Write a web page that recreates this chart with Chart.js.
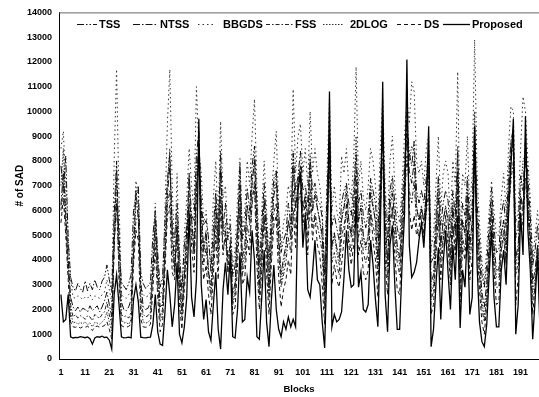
<!DOCTYPE html>
<html>
<head>
<meta charset="utf-8">
<script src="https://cdn.jsdelivr.net/npm/chart.js@4.4.1/dist/chart.umd.min.js"></script>
<style>
  html, body { margin: 0; padding: 0; background: #fff; }
  #wrap { width: 539px; height: 397px; }
</style>
</head>
<body>
<div id="wrap"><canvas id="sadChart" width="539" height="397"></canvas></div>
<script>
// block index on the x axis (1..199)
const blocks = Array.from({ length: 199 }, (_, i) => i + 1);
const blockTicks = [1, 11, 21, 31, 41, 51, 61, 71, 81, 91, 101, 111, 121, 131, 141, 151, 161, 171, 181, 191];
const seriesNames = ['TSS', 'NTSS', 'BBGDS', 'FSS', '2DLOG', 'DS', 'Proposed'];

// # of SAD per block
const tss = [
  7800, 6900, 8200, 4800, 3300, 2900, 2750, 3050, 2850, 2700,
  3150, 2750, 3050, 2800, 3200, 2900, 2800, 3150, 3300, 3800,
  3200, 2700, 5800, 8000, 4600, 3100, 2950, 2800, 3050, 3400,
  6000, 6600, 7000, 3500, 3050, 2850, 2950, 3100, 5000, 6000,
  4300, 2900, 3300, 5600, 7200, 8300, 5200, 4900, 6300, 4300,
  2800, 4600, 5400, 7400, 5800, 5600, 8200, 9200, 6200, 5400,
  5600, 4900, 3500, 5300, 6800, 5000, 8400, 5300, 6300, 4800,
  5400, 3300, 3800, 5400, 7900, 4800, 5300, 6900, 6000, 7800,
  8600, 6300, 3700, 5300, 7100, 5400, 3800, 5800, 7300, 7600,
  5900, 4300, 4800, 5100, 6300, 5400, 8300, 6800, 7400, 8400,
  6800, 7000, 6300, 8100, 6800, 7100, 6400, 6300, 5700, 3400,
  6800, 9300, 5400, 5800, 5300, 4800, 6300, 6800, 7100, 6300,
  5800, 6900, 8300, 6300, 6800, 5800, 5300, 5900, 7300, 6800,
  6300, 4900, 7300, 9300, 6400, 4800, 6800, 7400, 6300, 5300,
  4800, 6300, 7800, 9800, 8300, 7800, 8800, 6800, 6300, 6800,
  6300, 7300, 8400, 3900, 4100, 5800, 7300, 5400, 6300, 6800,
  6400, 4900, 6800, 5800, 8400, 4300, 6300, 5800, 7400, 5400,
  6300, 9400, 6300, 4800, 3400, 2900, 3800, 5400, 6900, 5300,
  4300, 4400, 5800, 6400, 5300, 7400, 8800, 9300, 4900, 5400,
  7400, 6800, 8800, 7400, 5800, 3800, 4400, 5400, 3800
];
const ntss = [
  6200, 7600, 5800, 4000, 2500, 2100, 1950, 2100, 1900, 2050,
  2000, 1900, 2150, 1950, 2050, 2150, 1900, 2100, 2350, 2700,
  2200, 1700, 4600, 6400, 5200, 2300, 2000, 1950, 2100, 2400,
  4300, 6800, 5600, 3100, 2100, 2000, 2050, 2300, 3600, 5600,
  3900, 2100, 2200, 4200, 6600, 7800, 5400, 3600, 5400, 3600,
  2000, 3300, 5200, 6300, 5700, 4300, 7000, 8700, 6100, 4400,
  5200, 3500, 3000, 4100, 6200, 4600, 7600, 5200, 5100, 4100,
  4600, 2600, 3100, 5200, 7000, 4100, 4600, 6200, 5600, 7100,
  8000, 5600, 3000, 4600, 6400, 5100, 2900, 5100, 6600, 7100,
  5000, 3400, 4100, 4600, 5600, 5000, 7700, 6100, 7000, 7600,
  6100, 6600, 5600, 7700, 6000, 6600, 6100, 5600, 5000, 2600,
  6100, 8600, 4600, 5100, 4500, 4100, 5600, 6100, 6700, 5600,
  5000, 6100, 7700, 5600, 6100, 5000, 4600, 5000, 6700, 6100,
  5600, 4100, 6700, 8900, 5600, 4000, 6100, 6700, 5600, 4600,
  4100, 5600, 7100, 9100, 7600, 7100, 8000, 6100, 5600, 6100,
  5600, 6600, 7600, 3100, 3400, 5100, 6600, 4600, 5600, 6100,
  5600, 4100, 6100, 5100, 7600, 3600, 5600, 5100, 6700, 4600,
  5600, 8700, 5600, 4100, 2700, 2100, 3100, 4600, 6100, 4600,
  3600, 3600, 5100, 5600, 4600, 6600, 8000, 8800, 4100, 4600,
  6600, 6100, 8100, 6600, 5000, 3100, 3600, 4600, 3100
];
const bbgds = [
  8500, 9200, 7000, 5000, 3200, 2500, 2450, 2550, 2500, 2400,
  2500, 2450, 2600, 2400, 2550, 2500, 2450, 2600, 2700, 3200,
  2800, 2300, 8000, 11700, 6500, 2600, 2500, 2450, 2600, 2800,
  5000, 7200, 6500, 3000, 2600, 2500, 2550, 2700, 4200, 6300,
  3800, 2500, 2800, 6000, 9500, 11700, 7000, 4200, 7500, 3800,
  2600, 5000, 6500, 8500, 7000, 6000, 11000, 8500, 7500, 5500,
  6000, 4800, 3800, 6500, 8000, 5500, 9600, 6500, 7000, 5000,
  5800, 3600, 4500, 6500, 8100, 5000, 6000, 8000, 7000, 9000,
  10500, 7000, 4000, 6000, 8000, 6000, 4000, 6500, 8000, 9200,
  6000, 4500, 5500, 6000, 7000, 6500, 10900, 7500, 9000, 9500,
  7500, 8500, 7000, 10000, 7500, 8500, 7500, 7000, 6000, 3500,
  7500, 10500, 6000, 7000, 6000, 5500, 8200, 7500, 8500, 7000,
  6500, 8000, 11800, 7000, 8000, 6500, 6000, 7000, 8500, 8000,
  7000, 5500, 8500, 10500, 7000, 5500, 8000, 9000, 7000, 6000,
  5500, 7000, 9000, 10500, 9500, 11200, 10800, 8000, 7500, 8000,
  7000, 8500, 9000, 4500, 5000, 7000, 9000, 6000, 7500, 8000,
  7500, 5500, 8000, 7000, 11600, 5000, 7500, 7000, 9000, 6000,
  7500, 12900, 7500, 5500, 4000, 3000, 4500, 6000, 7200, 6000,
  5000, 5000, 6500, 7500, 6000, 8500, 10200, 10000, 5500, 6000,
  8500, 10600, 10000, 8000, 6500, 4000, 5000, 6000, 4500
];
const fss = [
  6000, 7000, 5400, 3500, 2200, 1700, 1800, 1650, 1750, 1700,
  1600, 1750, 1700, 1550, 1800, 1700, 1650, 1800, 1900, 2300,
  1800, 1400, 4800, 6200, 3500, 1800, 1700, 1750, 1650, 1900,
  4200, 5600, 5800, 2500, 1800, 1700, 1750, 1900, 3400, 5000,
  3000, 1700, 2000, 4200, 6200, 6800, 4300, 3400, 5000, 2900,
  1800, 3200, 4500, 6000, 5000, 4200, 6800, 7800, 5400, 3800,
  4500, 3300, 2500, 3900, 5500, 3900, 6600, 4400, 4900, 3500,
  3900, 2200, 2600, 4500, 6300, 3400, 3900, 5400, 4800, 6200,
  7200, 4800, 2500, 3900, 5700, 4400, 2400, 4400, 5900, 6300,
  4300, 2900, 3400, 3900, 4900, 4300, 6800, 5300, 6300, 6800,
  5400, 5900, 4900, 6900, 5300, 5900, 5400, 4900, 4300, 2000,
  5400, 7800, 3900, 4300, 3800, 3400, 4900, 5400, 6000, 4900,
  4300, 5400, 6800, 4900, 5400, 4300, 3900, 4300, 6000, 5400,
  4900, 3400, 5900, 8100, 4900, 3300, 5400, 6000, 4900, 3900,
  3400, 4900, 6300, 8200, 6800, 6300, 7200, 5400, 4900, 5400,
  4900, 5900, 6800, 2400, 2700, 4400, 5900, 3900, 4900, 5400,
  4900, 3400, 5400, 4400, 6800, 2900, 4900, 4400, 6000, 3900,
  4900, 7900, 4900, 3400, 2000, 1500, 2400, 3900, 5400, 3900,
  2900, 2900, 4400, 4900, 3900, 5900, 7200, 8000, 3400, 3900,
  5900, 5400, 7300, 5900, 4300, 2400, 2900, 3900, 2400
];
const twoDLog = [
  7000, 8500, 6000, 4000, 1900, 1450, 1500, 1400, 1480, 1420,
  1500, 1380, 1460, 1300, 1480, 1450, 1400, 1500, 1600, 1900,
  1500, 1100, 5500, 7200, 4000, 1600, 1450, 1480, 1400, 1600,
  4600, 6200, 6400, 2200, 1500, 1450, 1480, 1600, 3800, 5700,
  3300, 1500, 1800, 4800, 7000, 8500, 4800, 3700, 5800, 3000,
  1600, 3600, 5200, 6800, 5600, 4700, 8000, 8200, 6000, 4300,
  5000, 3600, 2700, 4500, 6400, 4300, 7800, 5000, 5500, 3800,
  4400, 2300, 2800, 5000, 7400, 3700, 4300, 6200, 5400, 7000,
  8200, 5300, 2700, 4400, 6500, 4900, 2600, 5000, 6800, 7600,
  4800, 3100, 3700, 4400, 5600, 4800, 8400, 6000, 7200, 7800,
  6000, 6700, 5600, 8300, 6000, 6800, 6100, 5500, 4800, 2200,
  6000, 8800, 4400, 5000, 4300, 3800, 5700, 6200, 7000, 5500,
  4900, 6300, 9000, 5500, 6300, 4900, 4400, 5000, 7000, 6300,
  5500, 3800, 6800, 9300, 5600, 3700, 6300, 7000, 5600, 4400,
  3800, 5500, 7400, 9400, 8000, 8600, 8400, 6200, 5600, 6200,
  5500, 6800, 8000, 2700, 3000, 5000, 7400, 4400, 5600, 6200,
  5600, 3800, 6300, 5000, 8600, 3300, 5600, 5000, 7000, 4400,
  5600, 10000, 5600, 3800, 2300, 1700, 2700, 4400, 6500, 4400,
  3300, 3300, 5000, 5600, 4400, 7000, 8800, 8800, 3800, 4400,
  6800, 8000, 8300, 6800, 5000, 2700, 3300, 4400, 2700
];
const ds = [
  5500, 6500, 5000, 3200, 1500, 1300, 1280, 1320, 1250, 1300,
  1280, 1320, 1250, 1150, 1300, 1330, 1280, 1310, 1350, 1500,
  1200, 800, 4500, 7800, 3200, 1350, 1300, 1280, 1320, 1400,
  3800, 5200, 4800, 1600, 1300, 1280, 1310, 1400, 2800, 4500,
  2500, 1100, 1400, 3600, 5800, 6200, 3500, 3200, 5400, 2200,
  1200, 2800, 4000, 7500, 4500, 3500, 6500, 8500, 4800, 3200,
  3800, 2600, 1800, 3400, 5000, 3200, 6200, 4200, 5200, 3500,
  4800, 1800, 2100, 3800, 6000, 3000, 3300, 4800, 4200, 6500,
  7000, 3800, 2000, 3600, 5800, 3500, 1800, 3900, 5400, 5800,
  3300, 2100, 2800, 3200, 4000, 3400, 6000, 4500, 7200, 7800,
  5500, 6400, 4200, 6500, 4800, 5800, 4600, 4200, 3000, 1400,
  5200, 9000, 3000, 3800, 3200, 2900, 3800, 4800, 6300, 4600,
  3800, 4600, 7200, 4200, 4800, 3500, 3200, 3600, 6000, 4800,
  4000, 2500, 6200, 9800, 4000, 2600, 5500, 6200, 4200, 2800,
  2600, 4800, 6500, 10000, 6000, 5200, 5800, 5000, 5300, 6000,
  5000, 6600, 8200, 1800, 2200, 4200, 5800, 3200, 4800, 5800,
  4600, 3000, 5400, 4200, 7200, 2300, 4500, 4000, 6200, 3200,
  4000, 9000, 4600, 2800, 1500, 1000, 2200, 4200, 6000, 3600,
  2200, 2300, 4400, 5200, 3800, 6400, 8400, 9000, 2200, 3300,
  6500, 5800, 9000, 6200, 4500, 1800, 3000, 4600, 2200
];
const proposed = [
  2600, 1500, 1600, 2600, 900, 850, 870, 860, 900, 880,
  860, 890, 820, 600, 850, 900, 880, 920, 870, 880,
  760, 400, 2600, 3400, 2200, 900, 850, 860, 880, 850,
  2400, 3000, 2300, 880, 860, 850, 870, 880, 1400, 2600,
  1100, 600, 550, 1900, 3600, 2600, 1300, 2200, 3900, 1000,
  650, 1300, 2500, 5900, 2500, 1700, 3200, 9700, 3000, 1600,
  2400, 1100, 750, 2200, 3500, 1200, 400, 2800, 3900, 2600,
  4200, 900, 850, 2000, 4300, 1500, 1600, 3300, 2700, 5200,
  4000, 900, 800, 2500, 4400, 1500, 500, 2400, 3800, 2000,
  1200, 900, 1500, 1200, 1700, 1300, 1600, 1300, 6800, 7500,
  4500, 5800, 2800, 2500, 3500, 4800, 3200, 3000, 1500, 450,
  4000, 10800, 1300, 1800, 1500, 1600, 1900, 3300, 5200, 3600,
  2900, 3000, 6500, 2900, 3500, 2000, 1900, 2200, 4800, 3800,
  2400, 1300, 5000, 11200, 2600, 1100, 4600, 5400, 3000, 1200,
  1200, 3800, 5800, 12100, 4600, 3300, 3500, 3900, 4800, 5500,
  4500, 6200, 9400, 500, 1200, 3000, 4500, 1600, 3900, 5200,
  3500, 2000, 4600, 3200, 5800, 1250, 3600, 2900, 5200, 1800,
  2500, 9400, 3800, 1500, 700, 500, 1400, 3400, 5200, 2500,
  1300, 1300, 3600, 4400, 3000, 5800, 7800, 9700, 1000, 2200,
  5900, 4200, 9800, 5200, 3600, 800, 2400, 4200, 1200
];

const seriesData = [tss, ntss, bbgds, fss, twoDLog, ds, proposed];

// line looks, same order as seriesNames
const seriesDash = [
  [7, 2, 1.5, 2, 1.5, 2],
  [7, 2, 1.5, 2],
  [1.5, 3],
  [4, 2, 1.5, 2],
  [1.5, 1.5],
  [4, 3],
  []
];
const seriesColor = ['#111', '#111', '#333', '#222', '#333', '#111', '#000'];
const seriesWidth = [1, 1, 1, 1, 1, 1, 1.3];

// legend sits inside the plot, along its top
const legendLayout = {
  y: 24,
  lines: [[77, 97], [133, 158], [198, 214], [266, 293], [323, 344], [397, 421], [443, 470]],
  textX: [99, 160, 223, 295, 350, 424, 472]
};

const insideLegend = {
  id: 'insideLegend',
  afterDraw(chart) {
    const ctx = chart.ctx;
    const area = chart.chartArea;
    ctx.save();
    // top frame of the plot
    ctx.strokeStyle = '#666';
    ctx.lineWidth = 1;
    ctx.setLineDash([]);
    ctx.beginPath();
    ctx.moveTo(area.left, area.top + 0.5);
    ctx.lineTo(area.right, area.top + 0.5);
    ctx.stroke();

    ctx.font = 'bold 11px "Liberation Sans", Arial, sans-serif';
    ctx.textBaseline = 'middle';
    ctx.textAlign = 'left';
    ctx.fillStyle = '#000';
    seriesNames.forEach((name, i) => {
      const [x1, x2] = legendLayout.lines[i];
      ctx.strokeStyle = seriesColor[i];
      ctx.lineWidth = seriesWidth[i];
      ctx.setLineDash(seriesDash[i]);
      ctx.beginPath();
      ctx.moveTo(x1, legendLayout.y + 0.5);
      ctx.lineTo(x2, legendLayout.y + 0.5);
      ctx.stroke();
      ctx.fillText(name, legendLayout.textX[i], legendLayout.y + 1);
    });
    ctx.restore();
  }
};

const datasets = seriesNames.map((name, i) => ({
  label: name,
  data: blocks.map((b, j) => ({ x: b, y: seriesData[i][j] })),
  borderColor: seriesColor[i],
  borderWidth: seriesWidth[i],
  borderDash: seriesDash[i],
  pointRadius: 0,
  tension: 0,
  fill: false,
  order: name === 'Proposed' ? 0 : i + 1
}));

const tickFont = { family: '"Liberation Sans", Arial, sans-serif', size: 9, weight: 'bold' };

new Chart(document.getElementById('sadChart'), {
  type: 'line',
  data: { datasets },
  options: {
    responsive: false,
    devicePixelRatio: 1,
    animation: false,
    layout: { padding: { top: 9, right: 0, left: 0, bottom: 0 } },
    plugins: {
      legend: { display: false },
      tooltip: { enabled: false }
    },
    scales: {
      x: {
        type: 'linear',
        min: 0.2,
        max: 198.6,
        afterBuildTicks: (scale) => { scale.ticks = blockTicks.map(v => ({ value: v })); },
        afterFit: (scale) => { scale.height = 38; },
        grid: { display: false, drawTicks: false },
        border: { display: true, color: '#000', width: 1 },
        ticks: { color: '#000', font: tickFont, padding: 8, maxRotation: 0, autoSkip: false,
                 callback: (v) => String(v) },
        title: {
          display: true,
          text: 'Blocks',
          color: '#000',
          font: { family: '"Liberation Sans", Arial, sans-serif', size: 9.5, weight: 'bold' },
          padding: { top: 0, bottom: 2 }
        }
      },
      y: {
        min: 0,
        max: 14000,
        afterFit: (scale) => { scale.width = 59; },
        grid: { display: false, drawTicks: false },
        border: { display: true, color: '#000', width: 1 },
        ticks: { stepSize: 1000, color: '#000', font: tickFont, padding: 7,
                 callback: (v) => String(v) },
        title: {
          display: true,
          text: '# of SAD',
          color: '#000',
          font: { family: '"Liberation Sans", Arial, sans-serif', size: 10, weight: 'bold' },
          padding: { top: 14, bottom: 0 }
        }
      }
    }
  },
  plugins: [insideLegend]
});
</script>
</body>
</html>
